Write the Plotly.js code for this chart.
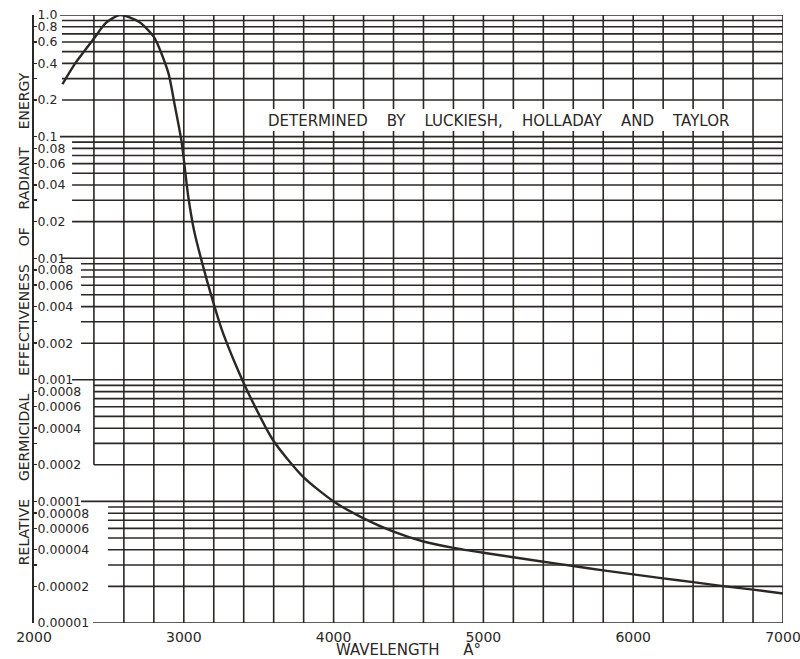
<!DOCTYPE html>
<html>
<head>
<meta charset="utf-8">
<script src="https://cdn.plot.ly/plotly-3.0.1.min.js"></script>
<style>
html,body{margin:0;padding:0;background:#ffffff;}
#chart{width:800px;height:659px;}
</style>
</head>
<body>
<div id="chart"></div>
<script>
// ---- data ----
const wavelength = [2190, 2275, 2400, 2480, 2575, 2700, 2800, 2895, 2940, 2985, 3030, 3068, 3123, 3186, 3253, 3342, 3442, 3595, 3795, 4000, 4200, 4400, 4600, 4800, 5000, 5200, 5400, 5600, 5800, 6000, 6200, 6400, 6600, 6800, 7000];
const effectiveness = [0.27, 0.40, 0.64, 0.86, 1.0, 0.88, 0.66, 0.34, 0.18, 0.091, 0.032, 0.017, 0.0091, 0.0048, 0.0026, 0.00137, 0.00073, 0.00032, 0.00016, 0.00010, 0.0000726, 0.0000564, 0.0000468, 0.0000415, 0.0000378, 0.0000347, 0.0000319, 0.0000294, 0.0000271, 0.0000251, 0.0000233, 0.0000217, 0.0000201, 0.0000188, 0.0000175];

const xTickVals = [2000, 3000, 4000, 5000, 6000, 7000];
const xTickText = ['2000', '3000', '4000', '5000', '6000', '7000'];

const yTickVals = [1.0, 0.8, 0.6, 0.4, 0.3, 0.2, 0.1, 0.08, 0.06, 0.04, 0.03, 0.02, 0.01, 0.008, 0.006, 0.004, 0.003, 0.002, 0.001, 0.0008, 0.0006, 0.0004, 0.0003, 0.0002, 0.0001, 0.00008, 0.00006, 0.00004, 0.00003, 0.00002, 0.00001];
const yTickText = ['1.0', '0.8', '0.6', '0.4', '', '0.2', '0.1', '0.08', '0.06', '0.04', '', '0.02', '0.01', '0.008', '0.006', '0.004', '', '0.002', '0.001', '0.0008', '0.0006', '0.0004', '', '0.0002', '0.0001', '0.00008', '0.00006', '0.00004', '', '0.00002', '0.00001'];

const gap = '\u00a0\u00a0\u00a0\u00a0';
const chartNote = ['DETERMINED', 'BY', 'LUCKIESH,', 'HOLLADAY', 'AND', 'TAYLOR'].join(gap);
const xTitle = 'WAVELENGTH\u00a0\u00a0\u00a0\u00a0\u00a0A°';
const yTitle = ['RELATIVE', 'GERMICIDAL', 'EFFECTIVENESS', 'OF', 'RADIANT', 'ENERGY'].join(gap);

// ---- graph-paper styling (layout only) ----
const ink = '#2b2725';
const gridW = 1.6;
const xMin = 2000, xMax = 7000;
const gridStep = 200;
const gridFirst = 2400;           // first vertical rule
const firstRuleBottom = 0.0002;   // where the 2400 rule stops
// left start of horizontal rules per decade block (block lower exponent)
const blockStart = {'-1': 2187, '-2': 2254, '-3': 2314, '-4': 2400, '-5': 2494};
const topRuleStart = 2173;
const bottomRuleStart = 2394;
const noteBox = {x0: 3410, x1: 6790, y0: 0.111, y1: 0.1686};
const noteAt = {x: 5100, y: 0.135};

const shapes = [];
function hline(v, x0) {
  shapes.push({type: 'line', xref: 'x', yref: 'y', x0: x0, x1: xMax, y0: v, y1: v,
               layer: 'below', line: {color: ink, width: gridW}});
}
function vline(x, y0, y1) {
  shapes.push({type: 'line', xref: 'x', yref: 'y', x0: x, x1: x, y0: y0, y1: y1,
               layer: 'below', line: {color: ink, width: gridW}});
}
// vertical rules
for (let x = gridFirst; x < xMax; x += gridStep) {
  vline(x, x === gridFirst ? firstRuleBottom : 1e-5, 1.0);
}
vline(xMax, 1e-5, 1.0);
// horizontal rules
hline(1.0, topRuleStart);
for (let e = -1; e >= -5; e--) {
  const base = Math.pow(10, e);
  for (let m = 2; m <= 9; m++) hline(m * base, blockStart[String(e)]);
  if (e > -5) hline(base, e === -1 ? topRuleStart : blockStart[String(e + 1)]);
}
hline(1e-5, bottomRuleStart);
// white panel behind the note
shapes.push({type: 'rect', xref: 'x', yref: 'y', x0: noteBox.x0, x1: noteBox.x1,
             y0: noteBox.y0, y1: noteBox.y1, layer: 'below',
             fillcolor: '#ffffff', line: {width: 0}});

const trace = {
  type: 'scatter', mode: 'lines',
  x: wavelength, y: effectiveness,
  line: {color: ink, width: 2.4, shape: 'spline', smoothing: 0.7},
  hoverinfo: 'x+y'
};

const layout = {
  width: 800, height: 659,
  margin: {l: 34, r: 17, t: 15, b: 36},
  paper_bgcolor: '#ffffff', plot_bgcolor: '#ffffff',
  showlegend: false,
  font: {family: 'DejaVu Sans, sans-serif', color: ink},
  xaxis: {
    type: 'linear', range: [xMin, xMax],
    tickmode: 'array', tickvals: xTickVals, ticktext: xTickText,
    showgrid: false, zeroline: false, showline: false,
    ticks: 'outside', ticklen: 1, tickcolor: 'rgba(0,0,0,0)',
    ticklabeloverflow: 'allow',
    tickfont: {size: 14, color: ink},
    title: {text: xTitle, font: {size: 15, color: ink}, standoff: 4}
  },
  yaxis: {
    type: 'log', range: [-5, 0],
    tickmode: 'array', tickvals: yTickVals, ticktext: yTickText,
    showgrid: false, zeroline: false,
    showline: true, linecolor: ink, linewidth: 1.6,
    ticks: 'inside', ticklen: 3, tickwidth: 1.4, tickcolor: ink,
    ticklabelposition: 'inside', ticklabeloverflow: 'allow',
    tickfont: {size: 12.5, color: ink},
    title: {text: yTitle, font: {size: 14, color: ink}, standoff: 4}
  },
  shapes: shapes,
  annotations: [{
    xref: 'x', yref: 'y', x: noteAt.x, y: Math.log10(noteAt.y),
    text: chartNote, showarrow: false,
    font: {size: 15, color: ink}, xanchor: 'center', yanchor: 'middle'
  }]
};

Plotly.newPlot('chart', [trace], layout, {displayModeBar: false, staticPlot: true});
</script>
</body>
</html>
